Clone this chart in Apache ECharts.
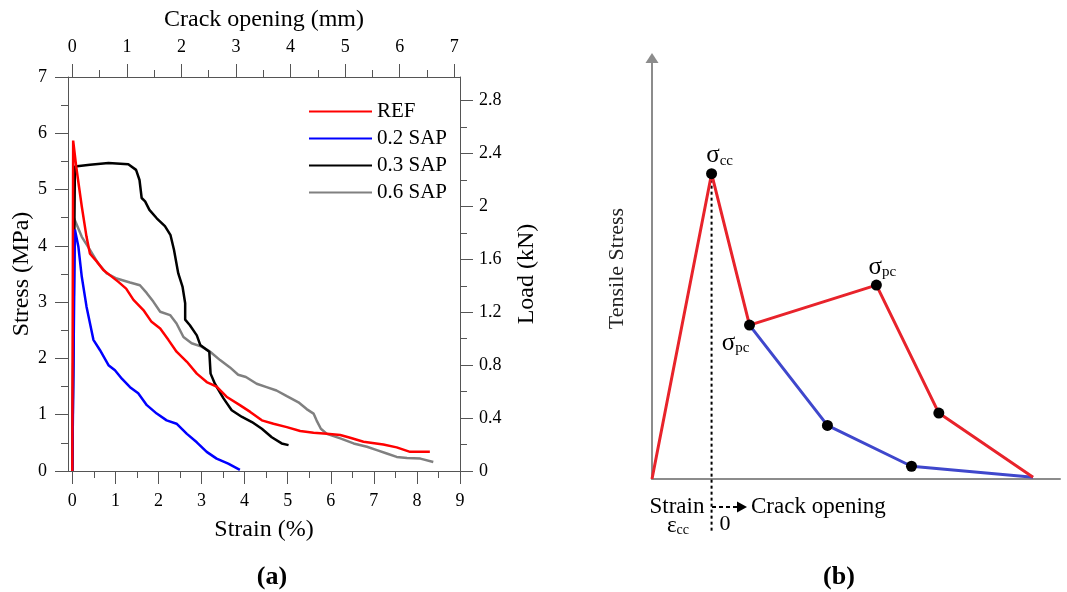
<!DOCTYPE html>
<html>
<head>
<meta charset="utf-8">
<title>Tensile stress-strain curves</title>
<script src="https://cdn.jsdelivr.net/npm/echarts@6.0.0/dist/echarts.min.js"></script>
<style>
  html, body { margin: 0; padding: 0; background: #fff; }
  #chart { width: 1067px; height: 592px; }
</style>
</head>
<body>
<div id="chart"></div>
<script>
// ---------- panel (a) : measured curves ----------
const refStrain = [0, 0.02, 0.09, 0.22, 0.33, 0.41, 0.57, 0.72, 0.87, 1.07, 1.25, 1.42, 1.65, 1.84, 2.04, 2.23, 2.42, 2.66, 2.89, 3.12, 3.35, 3.58, 3.89, 4.13, 4.40, 4.67, 4.98, 5.29, 5.60, 5.91, 6.22, 6.45, 6.76, 7.22, 7.53, 7.84, 8.30];
const refStress = [0, 5.87, 5.41, 4.70, 4.16, 3.86, 3.72, 3.57, 3.48, 3.36, 3.24, 3.04, 2.86, 2.65, 2.53, 2.33, 2.12, 1.94, 1.73, 1.58, 1.50, 1.32, 1.17, 1.05, 0.90, 0.84, 0.78, 0.71, 0.68, 0.66, 0.64, 0.59, 0.52, 0.47, 0.42, 0.34, 0.34];

const sap02Strain = [0, 0.06, 0.14, 0.22, 0.33, 0.49, 0.64, 0.84, 0.99, 1.15, 1.34, 1.53, 1.73, 1.96, 2.19, 2.42, 2.66, 2.89, 3.12, 3.35, 3.62, 3.89];
const sap02Stress = [0, 4.29, 3.99, 3.45, 2.92, 2.33, 2.15, 1.88, 1.79, 1.64, 1.49, 1.38, 1.17, 1.02, 0.90, 0.84, 0.66, 0.51, 0.34, 0.22, 0.13, 0.02];

const sap03Strain = [0, 0.06, 0.41, 0.84, 1.30, 1.48, 1.56, 1.61, 1.69, 1.79, 1.96, 2.15, 2.28, 2.36, 2.46, 2.56, 2.62, 2.62, 2.73, 2.89, 2.97, 3.18, 3.21, 3.31, 3.51, 3.70, 3.94, 4.17, 4.40, 4.63, 4.86, 5.02];
const sap03Stress = [0, 5.41, 5.44, 5.47, 5.45, 5.35, 5.17, 4.85, 4.79, 4.64, 4.49, 4.35, 4.19, 3.93, 3.51, 3.27, 2.98, 2.69, 2.59, 2.41, 2.24, 2.12, 1.73, 1.55, 1.29, 1.08, 0.96, 0.87, 0.75, 0.60, 0.49, 0.46];

const sap06Strain = [0, 0.04, 0.22, 0.41, 0.60, 0.80, 1.03, 1.34, 1.57, 1.73, 1.88, 2.04, 2.27, 2.42, 2.58, 2.77, 3.00, 3.20, 3.43, 3.66, 3.85, 4.03, 4.28, 4.51, 4.74, 4.98, 5.25, 5.44, 5.60, 5.67, 5.77, 5.91, 6.22, 6.53, 6.84, 7.07, 7.30, 7.53, 7.77, 8.08, 8.38];
const sap06Stress = [0, 4.49, 4.16, 3.93, 3.69, 3.51, 3.42, 3.35, 3.30, 3.16, 3.01, 2.83, 2.77, 2.62, 2.38, 2.27, 2.21, 2.12, 1.97, 1.84, 1.71, 1.67, 1.55, 1.49, 1.43, 1.33, 1.22, 1.10, 1.02, 0.90, 0.75, 0.66, 0.58, 0.49, 0.43, 0.37, 0.31, 0.25, 0.23, 0.22, 0.16];

const seriesNames = ['REF', '0.2 SAP', '0.3 SAP', '0.6 SAP'];

// tick positions / labels
const strainTicks = [0, 1, 2, 3, 4, 5, 6, 7, 8, 9];
const strainMinor = [0.5, 1.5, 2.5, 3.5, 4.5, 5.5, 6.5, 7.5, 8.5];
const crackTicks = [0, 1, 2, 3, 4, 5, 6, 7];
const crackMinor = [0.5, 1.5, 2.5, 3.5, 4.5, 5.5, 6.5];
const stressTicks = [0, 1, 2, 3, 4, 5, 6, 7];
const stressMinor = [0.5, 1.5, 2.5, 3.5, 4.5, 5.5, 6.5];
const loadTicks = [0, 0.4, 0.8, 1.2, 1.6, 2, 2.4, 2.8];
const loadMinor = [0.2, 0.6, 1.0, 1.4, 1.8, 2.2, 2.6];

// ---------- panel (b) : schematic model (arbitrary units) ----------
const modelRedX = [0, 14.6, 23.9, 55.0, 70.3, 93.4];
const modelRedY = [0, 71.8, 36.2, 45.6, 15.5, 0.4];
const modelBlueX = [23.9, 43.0, 63.6, 93.4];
const modelBlueY = [36.2, 12.6, 3.0, 0.4];

const SERIF = '"Liberation Serif", "Times New Roman", serif';
const AXIS_COLOR = '#555';

const pairs = (xs, ys) => xs.map((x, i) => [x, ys[i]]);

function mainAxis(extra) {
    return Object.assign({
        type: 'value',
        gridIndex: 0,
        splitLine: { show: false },
        axisLine: { show: true, onZero: false, lineStyle: { color: AXIS_COLOR, width: 1 } },
        axisTick: { show: true, length: 13, lineStyle: { color: AXIS_COLOR } },
        axisLabel: { margin: 21, fontFamily: SERIF, fontSize: 18, color: '#000' },
        nameLocation: 'middle',
        nameTextStyle: { fontFamily: SERIF, fontSize: 24, color: '#000' }
    }, extra);
}

function minorAxis(extra, ticks) {
    return Object.assign({
        type: 'value',
        gridIndex: 0,
        splitLine: { show: false },
        axisLine: { show: false, onZero: false },
        axisLabel: { show: false },
        axisTick: { show: true, length: 7, customValues: ticks, lineStyle: { color: AXIS_COLOR } }
    }, extra);
}

const xStrain = mainAxis({ position: 'bottom', min: -0.1, max: 9, name: 'Strain (%)', nameGap: 47 });
xStrain.axisTick.customValues = strainTicks;
xStrain.axisLabel.customValues = strainTicks;

const xCrack = mainAxis({ position: 'top', min: -0.079, max: 7.105, name: 'Crack opening (mm)', nameGap: 45 });
xCrack.axisTick.customValues = crackTicks;
xCrack.axisLabel.customValues = crackTicks;

const yStress = mainAxis({ position: 'left', min: 0, max: 7, name: 'Stress (MPa)', nameGap: 29 });
yStress.axisTick.customValues = stressTicks;
yStress.axisLabel.customValues = stressTicks;

const yLoad = mainAxis({ position: 'right', min: 0, max: 2.978, name: 'Load (kN)', nameGap: 55 });
yLoad.axisTick.customValues = loadTicks;
yLoad.axisLabel.customValues = loadTicks;
yLoad.axisLabel.margin = 19;

const lineSeries = (name, xs, ys, color, z) => ({
    name: name,
    type: 'line',
    xAxisIndex: 0,
    yAxisIndex: 0,
    data: pairs(xs, ys),
    symbol: 'none',
    smooth: false,
    z: z,
    lineStyle: { color: color, width: 2.5 },
    itemStyle: { color: color }
});

const dotLabel = (text, pos, offset) => ({
    show: true,
    position: pos,
    distance: 0,
    offset: offset,
    color: '#000',
    textBorderWidth: 0,
    formatter: text,
    rich: {
        s: { fontFamily: SERIF, fontSize: 25, lineHeight: 25, color: '#000', verticalAlign: 'bottom' },
        sub: { fontFamily: SERIF, fontSize: 15, lineHeight: 15, color: '#000', verticalAlign: 'bottom' }
    }
});

const dots = [
    { value: [modelRedX[1], modelRedY[1]], label: dotLabel('{s|σ}{sub|cc}', 'top', [8, 0]) },
    { value: [modelRedX[2], modelRedY[2]], label: dotLabel('{s|σ}{sub|pc}', 'bottom', [-14, 0]) },
    { value: [modelRedX[3], modelRedY[3]], label: dotLabel('{s|σ}{sub|pc}', 'top', [6, 0]) },
    { value: [modelRedX[4], modelRedY[4]] },
    { value: [modelBlueX[1], modelBlueY[1]] },
    { value: [modelBlueX[2], modelBlueY[2]] }
];

const chart = echarts.init(document.getElementById('chart'));

const option = {
    backgroundColor: '#fff',
    animation: false,
    textStyle: { fontFamily: SERIF },
    grid: [
        { left: 68, top: 77, width: 392, height: 394 },
        { left: 652, top: 58, width: 408, height: 421 }
    ],
    legend: {
        data: seriesNames,
        orient: 'vertical',
        left: 303,
        top: 96,
        itemWidth: 63,
        itemHeight: 14,
        itemGap: 6,
        itemStyle: { opacity: 0 },
        textStyle: { fontFamily: SERIF, fontSize: 21, color: '#000' }
    },
    xAxis: [
        xStrain,
        xCrack,
        minorAxis({ position: 'bottom', min: -0.1, max: 9 }, strainMinor),
        minorAxis({ position: 'top', min: -0.079, max: 7.105 }, crackMinor),
        {
            type: 'value', gridIndex: 1, min: 0, max: 100,
            splitLine: { show: false }, axisTick: { show: false }, axisLabel: { show: false },
            axisLine: { onZero: false, lineStyle: { color: '#8c8c8c', width: 2 } }
        }
    ],
    yAxis: [
        yStress,
        yLoad,
        minorAxis({ position: 'left', min: 0, max: 7 }, stressMinor),
        minorAxis({ position: 'right', min: 0, max: 2.978 }, loadMinor),
        {
            type: 'value', gridIndex: 1, min: 0, max: 99,
            splitLine: { show: false }, axisTick: { show: false }, axisLabel: { show: false },
            axisLine: {
                onZero: false,
                symbol: ['none', 'triangle'],
                symbolSize: [13, 10],
                lineStyle: { color: '#8c8c8c', width: 2 }
            },
            name: 'Tensile Stress',
            nameLocation: 'middle',
            nameGap: 24,
            nameTextStyle: { fontFamily: SERIF, fontSize: 22, color: '#222' }
        }
    ],
    series: [
        lineSeries('0.6 SAP', sap06Strain, sap06Stress, '#808080', 2),
        lineSeries('0.3 SAP', sap03Strain, sap03Stress, '#000000', 2),
        lineSeries('0.2 SAP', sap02Strain, sap02Stress, '#0000ff', 2),
        lineSeries('REF', refStrain, refStress, '#ff0000', 3),
        // panel (b)
        {
            name: 'model-drop', type: 'line', xAxisIndex: 4, yAxisIndex: 4,
            data: [[modelRedX[1], modelRedY[1]], [modelRedX[1], -12.6]],
            symbol: 'none', clip: false, z: 1,
            lineStyle: { color: '#000', width: 2, type: [3, 3] }
        },
        {
            name: 'model-blue', type: 'line', xAxisIndex: 4, yAxisIndex: 4,
            data: pairs(modelBlueX, modelBlueY), symbol: 'none', z: 2,
            lineStyle: { color: '#3f47cc', width: 3 }
        },
        {
            name: 'model-red', type: 'line', xAxisIndex: 4, yAxisIndex: 4,
            data: pairs(modelRedX, modelRedY), symbol: 'none', z: 3,
            lineStyle: { color: '#e8232b', width: 3 }
        },
        {
            name: 'model-points', type: 'scatter', xAxisIndex: 4, yAxisIndex: 4,
            data: dots, symbol: 'circle', symbolSize: 11, z: 4,
            itemStyle: { color: '#000', opacity: 1 }
        }
    ],
    graphic: [
        { type: 'text', x: 272, y: 577, style: { text: '(a)', font: 'bold 26px ' + SERIF, fill: '#000', align: 'center', verticalAlign: 'middle' } },
        { type: 'text', x: 839, y: 577, style: { text: '(b)', font: 'bold 26px ' + SERIF, fill: '#000', align: 'center', verticalAlign: 'middle' } },
        { type: 'text', x: 677, y: 507, style: { text: 'Strain', font: '23px ' + SERIF, fill: '#000', align: 'center', verticalAlign: 'middle' } },
        {
            type: 'text', x: 678, y: 526,
            style: {
                text: '{e|ε}{sub|cc}', align: 'center', verticalAlign: 'middle',
                rich: {
                    e: { font: '23px ' + SERIF, fill: '#000', lineHeight: 22, verticalAlign: 'bottom' },
                    sub: { font: '14px ' + SERIF, fill: '#000', lineHeight: 14, verticalAlign: 'bottom' }
                }
            }
        },
        { type: 'text', x: 725, y: 524, style: { text: '0', font: '22px ' + SERIF, fill: '#000', align: 'center', verticalAlign: 'middle' } },
        { type: 'line', shape: { x1: 712, y1: 507, x2: 738, y2: 507 }, style: { stroke: '#000', lineWidth: 2, lineDash: [4, 3] } },
        { type: 'polygon', shape: { points: [[737, 501.5], [747, 507], [737, 512.5]] }, style: { fill: '#000' } },
        { type: 'text', x: 751, y: 507, style: { text: 'Crack opening', font: '23px ' + SERIF, fill: '#000', align: 'left', verticalAlign: 'middle' } }
    ]
};

chart.setOption(option);
</script>
</body>
</html>
